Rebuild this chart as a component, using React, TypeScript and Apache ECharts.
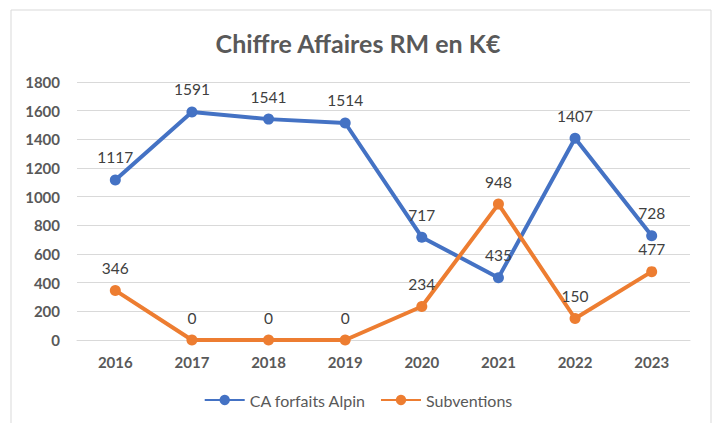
import React, { useEffect, useRef } from "react";
import * as echarts from "echarts";

const years = ["2016", "2017", "2018", "2019", "2020", "2021", "2022", "2023"];
const caForfaits = [1117, 1591, 1541, 1514, 717, 435, 1407, 728];
const subventions = [346, 0, 0, 0, 234, 948, 150, 477];
const titleText = "Chiffre Affaires RM en K€";
const seriesNames = ["CA forfaits Alpin", "Subventions"];

const FONT = "Lato, 'Open Sans', sans-serif";

export default function App() {
  const ref = useRef<HTMLDivElement>(null);
  useEffect(() => {
    if (!ref.current) return;
    const chart = echarts.init(ref.current, undefined, { renderer: "svg" });
    const labelStyle = {
      show: true,
      position: "top" as const,
      distance: 9,
      fontSize: 15.5,
      color: "#404040",
      fontFamily: FONT,
    };
    chart.setOption({
      animation: false,
      backgroundColor: "#ffffff",
      graphic: [
        {
          type: "rect",
          shape: { x: 11, y: 10, width: 700, height: 430 },
          style: { fill: "none", stroke: "#d9d9d9", lineWidth: 1 },
          silent: true,
        },
      ],
      title: {
        text: titleText,
        left: "center",
        top: 25,
        textStyle: {
          fontFamily: FONT,
          fontSize: 25,
          fontWeight: "bold",
          color: "#595959",
        },
      },
      legend: {
        top: 387,
        left: "center",
        itemWidth: 40,
        itemHeight: 13,
        itemGap: 14,
        textStyle: { fontFamily: FONT, fontSize: 16, color: "#595959" },
        data: seriesNames,
      },
      grid: { left: 77, right: 26, top: 82, bottom: 83 },
      xAxis: {
        type: "category",
        data: years,
        boundaryGap: true,
        axisLine: { show: true, lineStyle: { color: "#d9d9d9", width: 1 } },
        axisTick: { show: false },
        axisLabel: {
          margin: 14,
          fontFamily: FONT,
          fontSize: 15,
          fontWeight: "bold",
          color: "#595959",
        },
      },
      yAxis: {
        type: "value",
        min: 0,
        max: 1800,
        interval: 200,
        axisLine: { show: false },
        axisTick: { show: false },
        splitLine: { lineStyle: { color: "#d9d9d9", width: 1 } },
        axisLabel: {
          margin: 17,
          fontFamily: FONT,
          fontSize: 15,
          fontWeight: "bold",
          color: "#595959",
          formatter: (v: number) => String(v),
        },
      },
      series: [
        {
          name: seriesNames[0],
          type: "line",
          data: caForfaits,
          color: "#4472C4",
          lineStyle: { width: 4 },
          symbol: "circle",
          symbolSize: 11,
          label: labelStyle,
        },
        {
          name: seriesNames[1],
          type: "line",
          data: subventions,
          color: "#ED7D31",
          lineStyle: { width: 4 },
          symbol: "circle",
          symbolSize: 11,
          label: labelStyle,
        },
      ],
    });
    return () => chart.dispose();
  }, []);
  return (
    <div
      ref={ref}
      style={{ position: "fixed", left: 0, top: 0, width: 716, height: 423 }}
    />
  );
}
